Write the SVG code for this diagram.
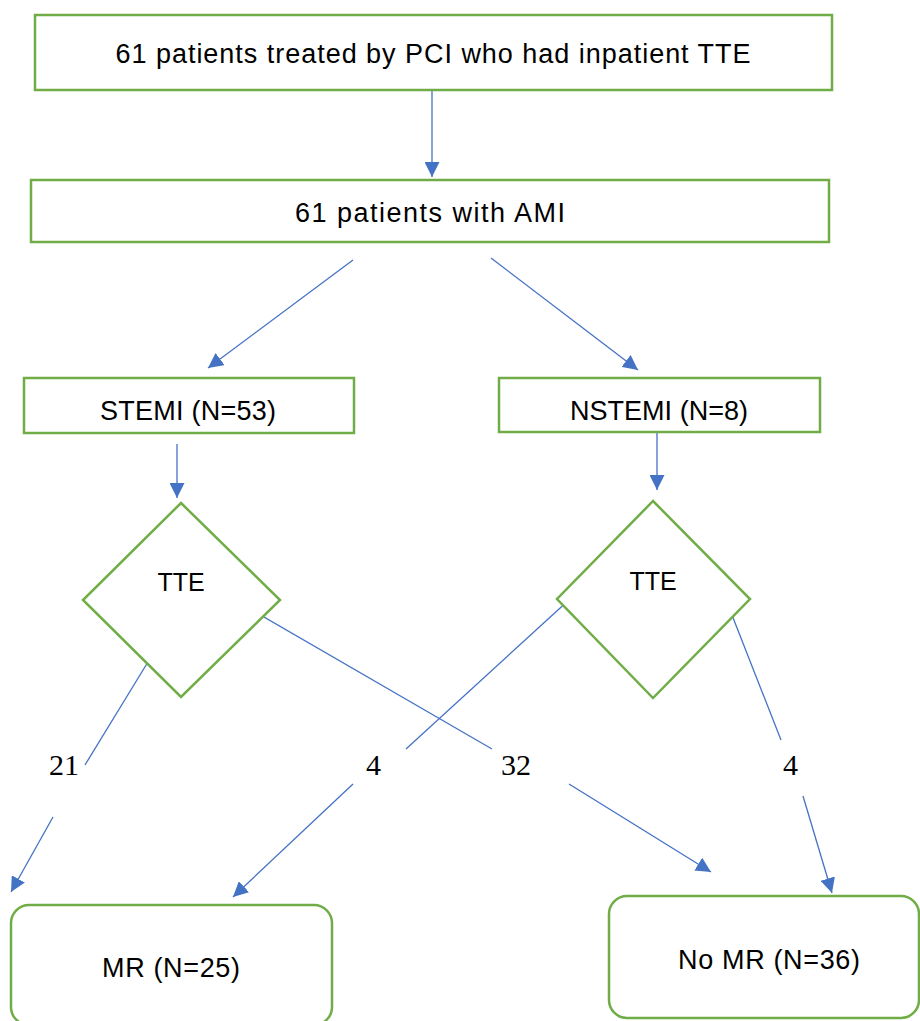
<svg xmlns="http://www.w3.org/2000/svg" width="920" height="1021" viewBox="0 0 920 1021">
<defs>
<marker id="ah" viewBox="0 0 10 10" refX="10" refY="5" markerWidth="15" markerHeight="15" markerUnits="userSpaceOnUse" orient="auto">
<path d="M0,0 L10,5 L0,10 z" fill="#4472C4"/>
</marker>
</defs>
<style>
.box{fill:#fff;stroke:#70AD47;stroke-width:2.5}
.t{font-family:"Liberation Sans",Arial,sans-serif;font-size:27px;fill:#000;text-anchor:middle}
.n{font-family:"Liberation Serif","Times New Roman",serif;font-size:30px;fill:#000}
.c{stroke:#4472C4;stroke-width:1.3;fill:none}
.ca{stroke:#4472C4;stroke-width:1.3;fill:none;marker-end:url(#ah)}
</style>
<rect width="920" height="1021" fill="#fff"/>
<g id="connectors">
<line class="ca" x1="432" y1="90" x2="432" y2="177"/>
<line class="ca" x1="353" y1="260" x2="208" y2="368"/>
<line class="ca" x1="491" y1="258" x2="638" y2="370"/>
<line class="ca" x1="177" y1="444" x2="177" y2="498"/>
<line class="ca" x1="657" y1="432" x2="657" y2="490"/>
<line class="c" x1="151" y1="657" x2="85" y2="765"/>
<line class="ca" x1="53" y1="817" x2="11" y2="892"/>
<line class="c" x1="252" y1="610" x2="492" y2="749"/>
<line class="ca" x1="569" y1="784" x2="711" y2="872"/>
<line class="c" x1="570" y1="599" x2="406" y2="749"/>
<line class="ca" x1="353" y1="784" x2="233" y2="897"/>
<line class="c" x1="730" y1="610" x2="781" y2="740"/>
<line class="ca" x1="803" y1="796" x2="832" y2="893"/>
</g>
<g id="n_top">
<rect class="box" x="35" y="15" width="797" height="75"/>
<text class="t" x="433" y="63" textLength="635">61 patients treated by PCI who had inpatient TTE</text>
</g>
<g id="n_ami">
<rect class="box" x="31" y="180" width="798" height="62"/>
<text class="t" x="430" y="222" textLength="270">61 patients with AMI</text>
</g>
<g id="n_stemi">
<rect class="box" x="24" y="378" width="330" height="55"/>
<text class="t" x="188" y="420" textLength="176">STEMI (N=53)</text>
</g>
<g id="n_nstemi">
<rect class="box" x="499" y="378" width="321" height="54"/>
<text class="t" x="659" y="420" textLength="178">NSTEMI (N=8)</text>
</g>
<g id="n_tte1">
<polygon class="box" points="181,503 280,600 181,697 83,600"/>
<text class="t" x="181" y="591" style="font-size:25px">TTE</text>
</g>
<g id="n_tte2">
<polygon class="box" points="653,501 750,599 653,698 557,599"/>
<text class="t" x="653" y="590" style="font-size:25px">TTE</text>
</g>
<g id="n_mr">
<rect class="box" x="11" y="905" width="321" height="120" rx="18"/>
<text class="t" x="171" y="977" textLength="138">MR (N=25)</text>
</g>
<g id="n_nomr">
<rect class="box" x="609" y="896" width="310" height="122" rx="18"/>
<text class="t" x="769" y="969" textLength="182">No MR (N=36)</text>
</g>
<g id="labels">
<text class="n" x="49" y="775">21</text>
<text class="n" x="366" y="775">4</text>
<text class="n" x="501" y="775">32</text>
<text class="n" x="783" y="775">4</text>
</g>
</svg>
